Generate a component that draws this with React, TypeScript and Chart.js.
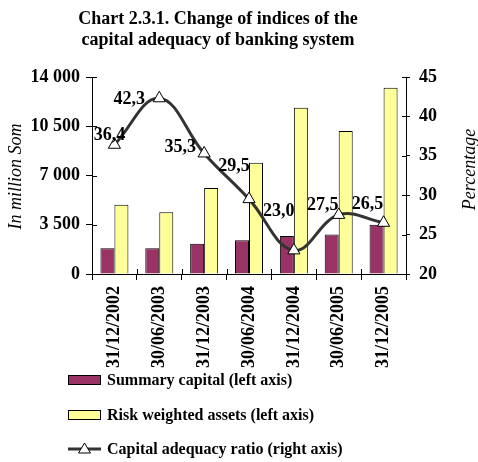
import React, { useEffect, useRef } from "react";
import { Chart, registerables } from "chart.js";

Chart.register(...registerables);

const categories = [
  "31/12/2002",
  "30/06/2003",
  "31/12/2003",
  "30/06/2004",
  "31/12/2004",
  "30/06/2005",
  "31/12/2005",
];
const summaryCapital = [1830, 1830, 2150, 2400, 2700, 2800, 3500];
const riskWeightedAssets = [4920, 4390, 6110, 7910, 11820, 10160, 13240];
const adequacyRatio = [36.4, 42.3, 35.3, 29.5, 23.0, 27.5, 26.5];

const titleLines = [
  "Chart 2.3.1. Change of indices of the",
  "capital adequacy of banking system",
];
const leftTitle = "In million Som";
const rightTitle = "Percentage";
const seriesNames = [
  "Summary capital (left axis)",
  "Risk weighted assets (left axis)",
  "Capital adequacy ratio (right axis)",
];

// label placement offsets (style) relative to each point
const labelOffsets: [number, number][] = [
  [-5, -9],
  [-30, 1],
  [-24, -6],
  [-15, -33],
  [-15, -39],
  [-16, -10],
  [-16, -18],
];

const SERIF = "'Liberation Serif', 'Times New Roman', serif";
const PURPLE = "#993366";
const YELLOW = "#FFFF99";
const LINE = "#333333";

const fmtThousands = (v: number) =>
  String(v).replace(/\B(?=(\d{3})+(?!\d))/g, " ");

const overlayPlugin = {
  id: "overlay",
  beforeDatasetsDraw(chart: any) {
    const ctx = chart.ctx;
    const { left, right, bottom } = chart.chartArea;
    ctx.save();
    ctx.strokeStyle = "#000";
    ctx.lineWidth = 1;
    const y = chart.scales.y;
    y.ticks.forEach((_t: any, i: number) => {
      const p = Math.round(y.getPixelForTick(i)) + 0.5;
      ctx.beginPath();
      ctx.moveTo(left, p);
      ctx.lineTo(left + 5, p);
      ctx.stroke();
    });
    const y1 = chart.scales.y1;
    y1.ticks.forEach((_t: any, i: number) => {
      const p = Math.round(y1.getPixelForTick(i)) + 0.5;
      ctx.beginPath();
      ctx.moveTo(right - 4, p);
      ctx.lineTo(right, p);
      ctx.stroke();
    });
    const x = chart.scales.x;
    const n = x.ticks.length;
    const w = (right - left) / n;
    for (let i = 1; i < n; i++) {
      const p = Math.round(left + w * i) + 0.5;
      ctx.beginPath();
      ctx.moveTo(p, bottom - 5);
      ctx.lineTo(p, bottom);
      ctx.stroke();
    }
    ctx.restore();
  },
  afterDatasetsDraw(chart: any) {
    const ctx = chart.ctx;
    const meta = chart.getDatasetMeta(2);
    ctx.save();
    ctx.font = `bold 18px ${SERIF}`;
    ctx.fillStyle = "#000";
    ctx.textAlign = "center";
    ctx.textBaseline = "middle";
    meta.data.forEach((pt: any, i: number) => {
      const v = adequacyRatio[i].toFixed(1).replace(".", ",");
      const [dx, dy] = labelOffsets[i];
      ctx.fillText(v, pt.x + dx, pt.y + dy);
    });
    ctx.restore();
  },
  afterDraw(chart: any) {
    const ctx = chart.ctx;
    const { top, bottom } = chart.chartArea;
    ctx.save();
    ctx.fillStyle = "#000";
    // title
    ctx.font = `bold 18px ${SERIF}`;
    ctx.textAlign = "center";
    ctx.textBaseline = "alphabetic";
    ctx.fillText(titleLines[0], 218, 24);
    ctx.fillText(titleLines[1], 218, 44.5);
    // axis titles
    ctx.font = `italic 18px ${SERIF}`;
    ctx.textBaseline = "middle";
    ctx.save();
    ctx.translate(16, (top + bottom) / 2 + 1);
    ctx.rotate(-Math.PI / 2);
    ctx.fillText(leftTitle, 0, 0);
    ctx.restore();
    ctx.save();
    ctx.translate(470, (top + bottom) / 2 - 6);
    ctx.rotate(-Math.PI / 2);
    ctx.fillText(rightTitle, 0, 0);
    ctx.restore();
    // legend
    const rows = [380, 415, 449];
    const bx = 68;
    const bw = 33;
    ctx.font = `bold 16px ${SERIF}`;
    ctx.textAlign = "left";
    ctx.textBaseline = "middle";
    rows.forEach((ry, i) => {
      if (i < 2) {
        ctx.fillStyle = i === 0 ? PURPLE : YELLOW;
        ctx.fillRect(bx, ry - 5, bw, 10);
        ctx.strokeStyle = "#000";
        ctx.lineWidth = 1;
        ctx.strokeRect(bx + 0.5, ry - 4.5, bw - 1, 9);
      } else {
        ctx.strokeStyle = LINE;
        ctx.lineWidth = 3;
        ctx.beginPath();
        ctx.moveTo(bx, ry);
        ctx.lineTo(bx + bw, ry);
        ctx.stroke();
        const cx = bx + bw / 2;
        ctx.fillStyle = "#fff";
        ctx.strokeStyle = "#000";
        ctx.lineWidth = 1;
        ctx.beginPath();
        ctx.moveTo(cx, ry - 6);
        ctx.lineTo(cx + 6, ry + 4);
        ctx.lineTo(cx - 6, ry + 4);
        ctx.closePath();
        ctx.fill();
        ctx.stroke();
      }
      ctx.fillStyle = "#000";
      ctx.fillText(seriesNames[i], 107, ry + 1);
    });
    ctx.restore();
  },
};

export default function App() {
  const ref = useRef<HTMLCanvasElement | null>(null);
  useEffect(() => {
    document.body.style.margin = "0";
    const canvas = ref.current;
    if (!canvas) return;
    const tickFont = { family: SERIF, size: 18, weight: "bold" as const };
    const chart = new Chart(canvas, {
      type: "bar",
      data: {
        labels: categories,
        datasets: [
          {
            type: "bar",
            label: seriesNames[0],
            data: summaryCapital,
            backgroundColor: PURPLE,
            borderColor: "#000",
            borderWidth: 1,
            yAxisID: "y",
            order: 2,
            categoryPercentage: 0.624,
            barPercentage: 1,
          },
          {
            type: "bar",
            label: seriesNames[1],
            data: riskWeightedAssets,
            backgroundColor: YELLOW,
            borderColor: "#000",
            borderWidth: 1,
            yAxisID: "y",
            order: 2,
            categoryPercentage: 0.624,
            barPercentage: 1,
          },
          {
            type: "line",
            label: seriesNames[2],
            data: adequacyRatio,
            borderColor: LINE,
            borderWidth: 3,
            tension: 0.4,
            pointStyle: "triangle",
            pointRadius: 7,
            pointBackgroundColor: "#fff",
            pointBorderColor: "#000",
            pointBorderWidth: 1,
            yAxisID: "y1",
            order: 0,
          } as any,
        ],
      },
      options: {
        responsive: false,
        animation: false,
        devicePixelRatio: 1,
        layout: { padding: { top: 77, left: 0, right: 0, bottom: 0 } },
        plugins: {
          legend: { display: false },
          title: { display: false },
          tooltip: { enabled: false },
        },
        scales: {
          x: {
            grid: {
              display: true,
              drawOnChartArea: false,
              drawTicks: true,
              tickLength: 6,
              color: "#000",
              offset: true,
            },
            border: { color: "#000", width: 1 },
            ticks: {
              font: tickFont,
              color: "#000",
              minRotation: 90,
              maxRotation: 90,
              autoSkip: false,
              padding: 6,
            },
            afterFit: (s: any) => {
              s.height = 188;
            },
          },
          y: {
            position: "left",
            min: 0,
            max: 14000,
            grid: {
              drawOnChartArea: false,
              tickLength: 6,
              color: "#000",
            },
            border: { color: "#000", width: 1 },
            ticks: {
              stepSize: 3500,
              font: tickFont,
              color: "#000",
              padding: 6,
              callback: (v: any) => fmtThousands(Number(v)),
            },
            afterFit: (s: any) => {
              s.width = 92;
            },
          },
          y1: {
            position: "right",
            min: 20,
            max: 45,
            grid: {
              drawOnChartArea: false,
              tickLength: 4,
              color: "#000",
            },
            border: { color: "#000", width: 1 },
            ticks: {
              stepSize: 5,
              font: tickFont,
              color: "#000",
              padding: 9,
            },
            afterFit: (s: any) => {
              s.width = 72;
            },
          },
        },
      },
      plugins: [overlayPlugin],
    });
    return () => chart.destroy();
  }, []);
  return (
    <div style={{ width: 478, height: 462 }}>
      <canvas ref={ref} width={478} height={462} />
    </div>
  );
}
